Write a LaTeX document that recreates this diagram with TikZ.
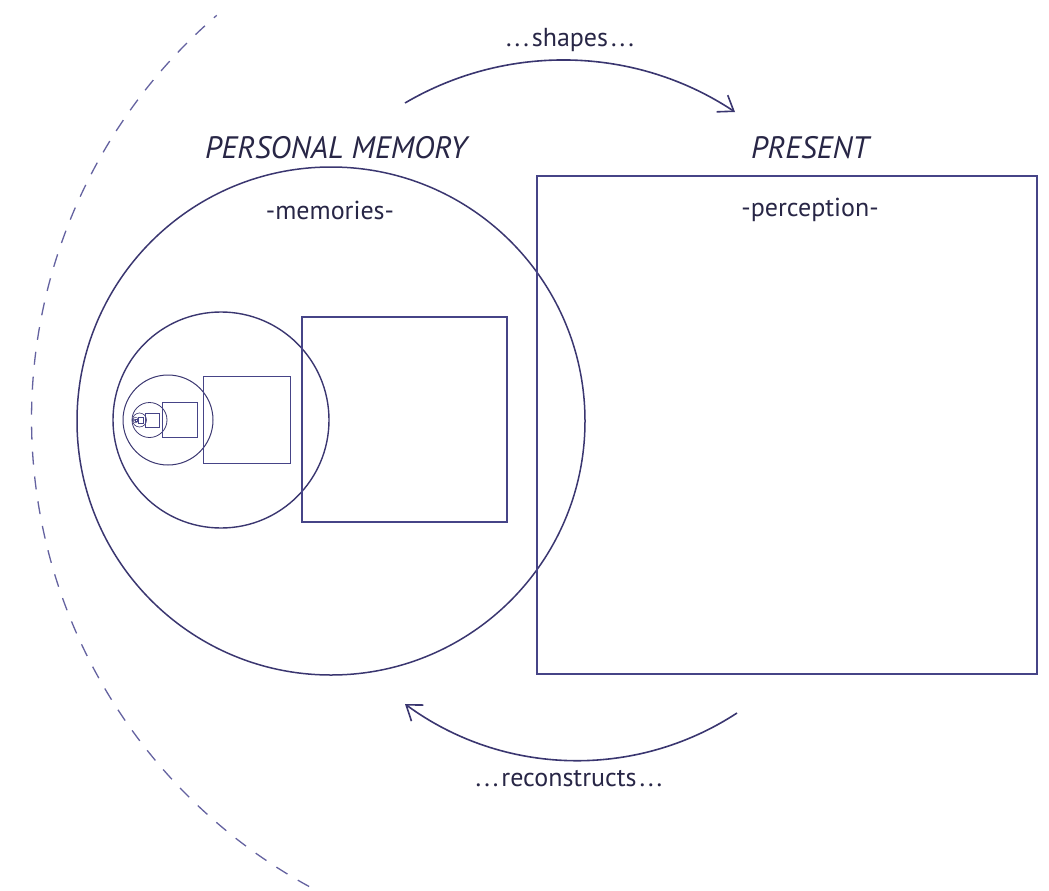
\documentclass[tikz,border=0pt]{standalone}
\usepackage{fontspec}
\setmainfont{PT Sans}
\usetikzlibrary{arrows.meta}
\definecolor{linecol}{RGB}{58,54,112}
\definecolor{sqcol}{RGB}{70,68,135}
\definecolor{txtcol}{RGB}{40,38,70}
\definecolor{dashcol}{RGB}{100,98,160}
\newcommand{\pre}{.\kern3pt.\kern3pt.\kern3pt}
\newcommand{\post}{\kern3pt.\kern3pt.\kern3pt.}
\tikzset{
  ring/.style={circle, draw=linecol, inner sep=0pt, outer sep=0pt},
  box/.style={rectangle, draw=sqcol, inner sep=0pt, outer sep=0pt},
  head/.style={text=txtcol, font=\fontsize{31}{36}\selectfont\itshape},
  lab/.style={text=txtcol, font=\fontsize{26}{30}\selectfont},
  flow/.style={draw=linecol, line width=1.6pt, -{Straight Barb[length=14pt,width=20pt,line width=1.6pt]}},
}
\begin{document}
\begin{tikzpicture}[x=1pt,y=-1pt]
\useasboundingbox (0,0) rectangle (1049,891);
% outer dashed horizon
\draw[dashcol, line width=1.3pt, dash pattern=on 13pt off 12pt]
  (564,419) ++(118.6:532.5) arc[start angle=118.6, end angle=229.3, radius=532.5];
% level 1
\node[ring, line width=1.5pt, minimum size=508pt] (c1) at (331,421) {};
\node[box, line width=1.4pt, minimum width=500pt, minimum height=498pt] (s1) at (787,425) {};
% level 2
\node[ring, line width=1.4pt, minimum size=216pt] (c2) at (221,420) {};
\node[box, line width=1.2pt, minimum size=205pt] (s2) at (404.5,419.5) {};
% level 3
\node[ring, line width=1.0pt, minimum size=90pt] (c3) at (168,420) {};
\node[box, line width=0.9pt, minimum size=87pt] (s3) at (246.5,420) {};
% level 4
\node[ring, line width=0.8pt, minimum size=35pt] (c4) at (149.5,420) {};
\node[box, line width=0.7pt, minimum size=35pt] (s4) at (179.5,419.5) {};
% level 5
\node[ring, line width=0.6pt, minimum size=14pt] (c5) at (139.5,420) {};
\node[box, line width=0.6pt, minimum size=14pt] (s5) at (152,420) {};
% level 6
\node[ring, line width=0.4pt, minimum size=5.6pt] (c6) at (135.5,420) {};
\node[box, line width=0.4pt, minimum size=5.6pt] (s6) at (140.5,420) {};
% level 7
\node[ring, line width=0.3pt, minimum size=2.2pt] (c7) at (134,420) {};
\node[box, line width=0.3pt, minimum size=2.2pt] (s7) at (136,420) {};
% texts
\node[head] (tpm) at (336,148) {PERSONAL MEMORY};
\node[head] (tpr) at (810,148) {PRESENT};
\node[lab] (tme) at (330,210) {-memories-};
\node[lab] (tpe) at (810,210) {-perception-};
\node[lab] (tsh) at (570,40) {\pre shapes\post};
\node[lab] (tre) at (569,779) {\pre reconstructs\post};
% arrows
\coordinate (a1) at (405,103);
\coordinate (a2) at (735,112);
\coordinate (b1) at (737,713);
\coordinate (b2) at (405,704);
\draw[flow] (a1) .. controls (507.6,42.7) and (635.9,46.2) .. (a2);
\draw[flow] (b1) .. controls (635.3,779.6) and (502.9,776.0) .. (b2);
\end{tikzpicture}
\end{document}
